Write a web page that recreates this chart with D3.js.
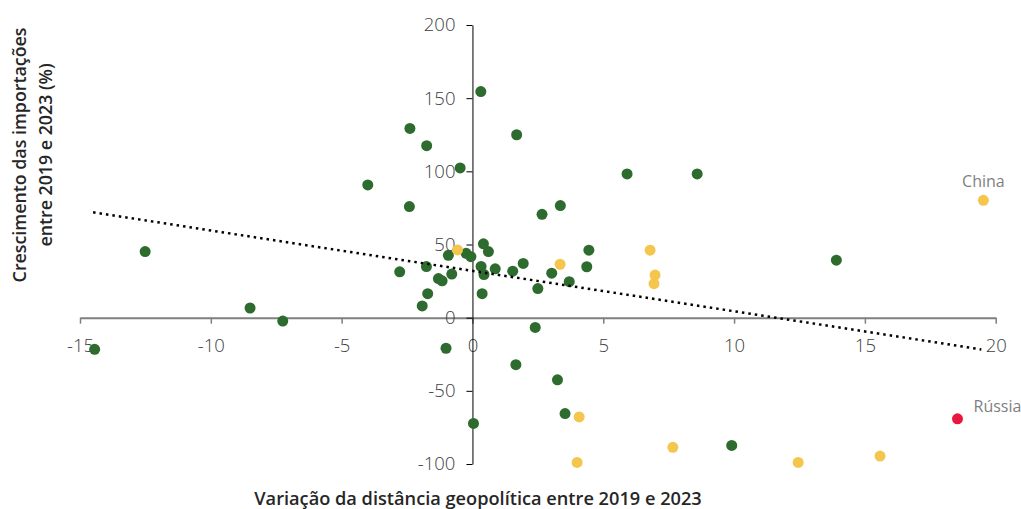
<!DOCTYPE html>
<html lang="pt-BR">
<head>
<meta charset="utf-8">
<title>Distância geopolítica e crescimento das importações</title>
<script src="https://cdn.jsdelivr.net/npm/d3@7"></script>
<style>
  html, body { margin: 0; padding: 0; background: #ffffff; }
  svg { display: block; font-family: "Open Sans", "Noto Sans", sans-serif; }
</style>
</head>
<body>
<svg id="chart" width="1021" height="509"></svg>
<script>
// Parceiros comerciais: variação da distância geopolítica (x) e crescimento das importações em % (y)
const greenX = [0.32, 1.69, -2.39, -1.75, -0.47, -4.0, -2.41, -12.51, 0.42, 0.61,
                5.91, 8.59, 2.66, 3.36, 4.45, 13.91, 1.94, 1.54, 4.37, 3.03,
                3.70, 2.50, 2.40, 1.66, 3.25, 3.54, 9.91, -8.50, -7.25, -14.44,
                -1.01, 0.04, -2.78, -1.76, -0.92, -0.24, -0.06, -1.30, -1.16, -0.79,
                -1.71, -1.92, 0.33, 0.44, 0.87, 0.37];
const greenY = [154.5, 125.0, 129.3, 117.5, 102.3, 90.7, 75.9, 45.2, 50.5, 45.2,
                98.2, 98.2, 70.6, 76.6, 46.1, 39.3, 37.1, 31.8, 34.8, 30.4,
                24.6, 19.9, -6.7, -32.1, -42.5, -65.5, -87.3, 6.6, -2.3, -21.6,
                -20.9, -72.3, 31.3, 34.9, 42.6, 44.0, 41.7, 26.7, 25.2, 29.8,
                16.4, 8.0, 35.0, 29.5, 33.4, 16.4];

const yellowX = [-0.57, 3.35, 6.79, 6.98, 6.94, 4.08, 4.00, 7.66, 12.45, 15.58, 19.53];
const yellowY = [46.3, 36.5, 46.1, 29.1, 23.2, -67.8, -98.9, -88.6, -98.9, -94.6, 80.2];

const redX = [18.54];
const redY = [-69.1];

// Rótulos de destaque
const labelNames = ["China", "Rússia"];
const labelX = [19.53, 18.54];
const labelY = [80.2, -69.1];

// Linha de tendência (extremos)
const trendX = [-14.5, 19.45];
const trendY = [72.0, -21.7];

const xTicks = [-15, -10, -5, 0, 5, 10, 15, 20];
const yTicks = [-100, -50, 0, 50, 100, 150, 200];

const svg = d3.select("#chart");

const x = d3.scaleLinear().domain([-15, 20]).range([80, 995.7]);
const y = d3.scaleLinear().domain([-100, 200]).range([464, 25]);

const plainNumber = d => String(d);
const tickFont = "'Open Sans', sans-serif";

// Eixo X, cruzando em y = 0
const gx = svg.append("g")
  .attr("transform", `translate(0,${y(0)})`)
  .call(d3.axisBottom(x).tickValues(xTicks).tickSizeInner(6).tickSizeOuter(0).tickPadding(15)
    .tickFormat(plainNumber));
gx.select(".domain").attr("stroke", "#7f7f7f").attr("stroke-width", 2);
gx.selectAll(".tick line").attr("stroke", "#7f7f7f").attr("stroke-width", 1.5);
gx.selectAll(".tick text")
  .attr("fill", "#404040").attr("font-size", 18.5).attr("font-weight", 300)
  .attr("font-family", tickFont);

// Eixo Y, cruzando em x = 0
const gy = svg.append("g")
  .attr("transform", `translate(${x(0)},0)`)
  .call(d3.axisLeft(y).tickValues(yTicks).tickSizeInner(6).tickSizeOuter(0).tickPadding(11)
    .tickFormat(plainNumber));
gy.select(".domain").attr("stroke", "#000").attr("stroke-width", 1);
gy.selectAll(".tick line").attr("stroke", "#000");
gy.selectAll(".tick text")
  .attr("fill", "#404040").attr("font-size", 18.5).attr("font-weight", 300)
  .attr("font-family", tickFont);

// Pontos
const groups = [
  { xs: greenX, ys: greenY, color: "#2e6b2f" },
  { xs: yellowX, ys: yellowY, color: "#f4c64d" },
  { xs: redX, ys: redY, color: "#e8173b" }
];
groups.forEach(g => {
  svg.append("g").selectAll("circle")
    .data(g.xs.map((v, i) => [v, g.ys[i]]))
    .join("circle")
    .attr("cx", d => x(d[0]))
    .attr("cy", d => y(d[1]))
    .attr("r", 5.5)
    .attr("fill", g.color);
});

// Tendência linear (pontilhada)
svg.append("path")
  .datum(trendX.map((v, i) => [v, trendY[i]]))
  .attr("d", d3.line().x(d => x(d[0])).y(d => y(d[1])))
  .attr("fill", "none")
  .attr("stroke", "#000")
  .attr("stroke-width", 2.5)
  .attr("stroke-dasharray", "2.5 4");

// Rótulos dos pontos
svg.append("text")
  .attr("x", x(labelX[0])).attr("y", y(labelY[0]) - 13)
  .attr("text-anchor", "middle")
  .attr("fill", "#7f7f7f").attr("font-size", 16).attr("font-weight", 400)
  .text(labelNames[0]);
svg.append("text")
  .attr("x", x(labelX[1]) + 16).attr("y", y(labelY[1]) - 7)
  .attr("text-anchor", "start")
  .attr("fill", "#7f7f7f").attr("font-size", 16).attr("font-weight", 400)
  .text(labelNames[1]);

// Títulos dos eixos
svg.append("text")
  .attr("x", 478).attr("y", 505)
  .attr("text-anchor", "middle")
  .attr("fill", "#262626").attr("font-size", 18.2).attr("font-weight", 600)
  .text("Variação da distância geopolítica entre 2019 e 2023");

const yTitle = svg.append("text")
  .attr("transform", "translate(26,155) rotate(-90)")
  .attr("text-anchor", "middle")
  .attr("fill", "#262626").attr("font-size", 17.8).attr("font-weight", 600);
yTitle.append("tspan").attr("x", 0).attr("y", 0).text("Crescimento das importações");
yTitle.append("tspan").attr("x", 0).attr("y", 26).text("entre 2019 e 2023 (%)");
</script>
</body>
</html>
